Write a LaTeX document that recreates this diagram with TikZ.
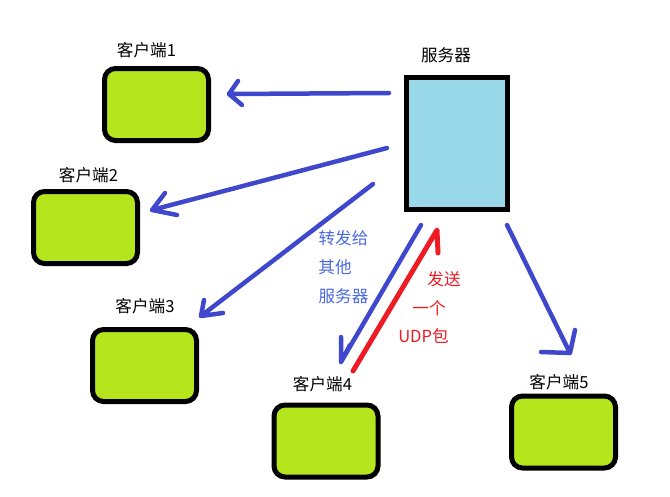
\documentclass[tikz,border=0pt]{standalone}
\usepackage{fontspec}
\setmainfont{Noto Sans CJK SC}
\definecolor{clientfill}{RGB}{181,230,29}
\definecolor{serverfill}{RGB}{153,217,234}
\definecolor{bluearrow}{RGB}{63,72,204}
\definecolor{redarrow}{RGB}{237,28,36}
\definecolor{bluetext}{RGB}{75,105,225}
\tikzset{
  client/.style={draw=black,line width=5pt,fill=clientfill,rounded corners=11pt,minimum width=104pt,minimum height=72pt,inner sep=0pt},
  server/.style={draw=black,line width=5pt,fill=serverfill,minimum width=101pt,minimum height=132pt,inner sep=0pt},
  lab/.style={font=\fontsize{16.6pt}{16.6pt}\selectfont,inner sep=0pt,text=black},
  bluelab/.style={lab,text=bluetext},
  redlab/.style={lab,text=redarrow},
  bluewire/.style={draw=bluearrow,line width=4.5pt,line cap=round,line join=round},
  redwire/.style={draw=redarrow,line width=5pt,line cap=round,line join=round}
}
\begin{document}
\begin{tikzpicture}[x=1pt,y=-1pt]
\useasboundingbox (0,0) rectangle (670,496);
\node[client] (c1) at (156.5,104.5) {};
\node[client] (c2) at (85.5,227.5) {};
\node[client] (c3) at (144.5,365.5) {};
\node[client] (c4) at (326,441) {};
\node[client] (c5) at (563.5,432) {};
\node[server] (s) at (457,143.5) {};
\node[lab] (l1) at (146.5,50) {客户端1};
\node[lab] (l2) at (88.5,175) {客户端2};
\node[lab] (l3) at (145,306) {客户端3};
\node[lab] (l4) at (322.5,384) {客户端4};
\node[lab] (l5) at (559,382) {客户端5};
\node[lab] (ls) at (446,55) {服务器};
\node[bluelab] (t1) at (343.5,238) {转发给};
\node[bluelab] (t2) at (335,267) {其他};
\node[bluelab] (t3) at (343.5,296) {服务器};
\node[redlab] (r1) at (444,279) {发送};
\node[redlab] (r2) at (429,308) {一个};
\node[redlab] (r3) at (423.5,336) {UDP包};
\coordinate (a1s) at (389,93);
\coordinate (a1t) at (229,94);
\coordinate (a2s) at (387,148);
\coordinate (a2t) at (152,210);
\coordinate (a3s) at (373,184);
\coordinate (a3t) at (201,316);
\coordinate (a4s) at (421,225);
\coordinate (a4t) at (341,362);
\coordinate (a5s) at (507,225);
\coordinate (a5t) at (570,353);
\coordinate (rs) at (353,371);
\coordinate (rt) at (437,230);
\draw[bluewire] (a1s) -- (a1t) (238,81) -- (a1t) -- (242,105);
\draw[bluewire] (a2s) -- (a2t) (165,193) -- (a2t) -- (177,215);
\draw[bluewire] (a3s) -- (a3t) (204,300) -- (a3t) -- (223,313);
\draw[bluewire] (a4s) -- (a4t) (341,337) -- (a4t) -- (350,345);
\draw[bluewire] (a5s) -- (a5t) (541,352) -- (a5t) -- (575,330);
\draw[redwire] (rs) -- (rt) -- (438,253);
\end{tikzpicture}
\end{document}
